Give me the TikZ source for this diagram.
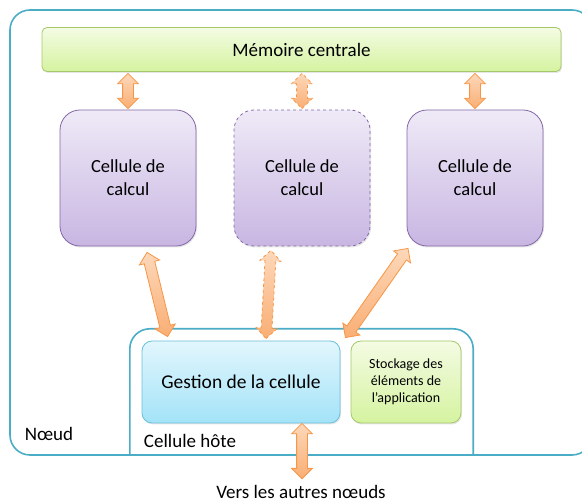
\documentclass[tikz,border=0pt]{standalone}
\usepackage{fontspec}
\setmainfont{Carlito}
\usepackage{xcolor}
\usetikzlibrary{calc,shapes.arrows,shadows}

\definecolor{noeudline}{HTML}{4BACC6}
\definecolor{memline}{HTML}{A6C86A}
\definecolor{memtop}{HTML}{F4FBE3}
\definecolor{membot}{HTML}{D5F3A0}
\definecolor{cellline}{HTML}{8468A8}
\definecolor{celltop}{HTML}{EFEAF7}
\definecolor{cellbot}{HTML}{C8B6E2}
\definecolor{gestline}{HTML}{6CC0DC}
\definecolor{gesttop}{HTML}{E2F6FD}
\definecolor{gestbot}{HTML}{A3E3F8}
\definecolor{fatline}{HTML}{F79646}
\definecolor{fattop}{HTML}{FDD8BA}
\definecolor{fatbot}{HTML}{F9AE74}

\tikzset{
  soft/.style={drop shadow={opacity=0.2,shadow xshift=1pt,shadow yshift=-1.5pt}},
  membox/.style={draw=memline, top color=memtop, bottom color=membot, rounded corners=5pt, line width=0.8pt, soft},
  cellbox/.style={draw=cellline, top color=celltop, bottom color=cellbot, rounded corners=20pt,
    minimum width=136pt, minimum height=136pt, line width=0.8pt, align=center, font=\fontsize{18.5}{23}\selectfont, soft},
  gestbox/.style={draw=gestline, top color=gesttop, bottom color=gestbot, rounded corners=10pt,
    minimum height=82pt, line width=0.8pt, soft},
  fat/.style={double arrow, draw=fatline, top color=fattop, bottom color=fatbot, line width=0.8pt,
    inner xsep=0pt, inner ysep=5pt, double arrow head extend=5pt, double arrow head indent=0pt},
  label/.style={font=\fontsize{19}{22}\selectfont},
}

% fat double arrow between two points
\newcommand{\fatarrow}[3][]{%
  \path let \p1=($(#3)-(#2)$), \n1={atan2(\y1,\x1)}, \n2={veclen(\x1,\y1)} in
    node[fat, #1, rotate=\n1, minimum height=\n2] at ($(#2)!0.5!(#3)$) {};}

\begin{document}
\begin{tikzpicture}[x=1pt,y=-1pt]
\clip (0,0) rectangle (582,502);

\draw[noeudline, line width=1.6pt, rounded corners=20pt] (10,10) rectangle (592,455);
\node[label] (noeud) at (49,434) {Nœud};

\node[membox, minimum width=519pt, minimum height=44pt, label] (mem) at (301.5,49.5) {Mémoire centrale};

\node[cellbox] (c1) at (128,178) {Cellule de\\calcul};
\node[cellbox, dashed] (c2) at (302,178) {Cellule de\\calcul};
\node[cellbox] (c3) at (475,178) {Cellule de\\calcul};

% cellule hote
\node[minimum width=343pt, minimum height=126pt] (host) at (301.5,392) {};
\draw[noeudline, line width=1.6pt, rounded corners=20pt] (host.south west) |- (host.north east) -- (host.south east);
\node[label] (hote) at (190,441) {Cellule hôte};

\node[gestbox, minimum width=198pt, font=\fontsize{19.5}{22}\selectfont] (gest) at (241,382) {Gestion de la cellule};
\node[gestbox, draw=memline, top color=memtop, bottom color=membot, minimum width=110pt,
  align=center, font=\fontsize{14}{17}\selectfont] (stock) at (406,382) {Stockage des\\éléments de\\l’application};

\node[label] (vers) at (301,492) {Vers les autres nœuds};

\fatarrow{$(mem.south -| c1.north)+(0,1.5)$}{$(c1.north)+(0,-1)$}
\fatarrow[dashed]{$(mem.south -| c2.north)+(0,1.5)$}{$(c2.north)+(0,-1)$}
\fatarrow{$(mem.south -| c3.north)+(0,1.5)$}{$(c3.north)+(0,-1)$}

\fatarrow{$(c1.south)+(19,6)$}{$(gest.north west)+(26,-4)$}
\fatarrow[dashed]{$(c2.south)+(-31,4)$}{$(gest.north)+(25,-2)$}
\fatarrow{$(c3.south)+(-67,2)$}{$(gest.north east)+(5,-3)$}

\fatarrow{$(gest.south)+(61,0)$}{$(vers.north)+(1,-3)$}
\end{tikzpicture}
\end{document}
